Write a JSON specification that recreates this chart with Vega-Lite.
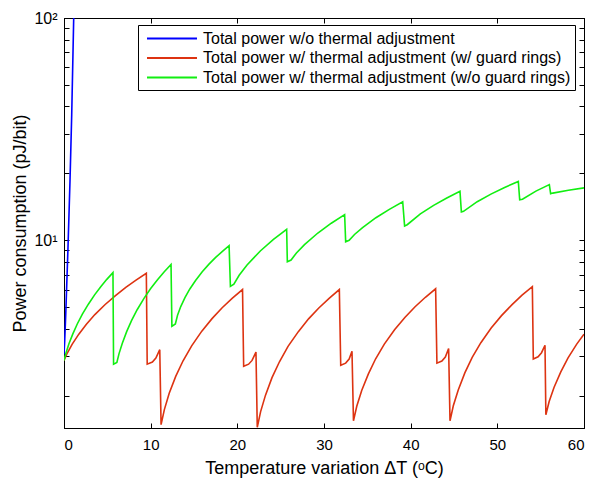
{
  "$schema": "https://vega.github.io/schema/vega-lite/v6.json",
  "width": 520,
  "height": 410,
  "autosize": {"type": "none"},
  "padding": {"left": 64, "top": 18, "right": 9, "bottom": 55},
  "background": "white",
  "config": {
    "font": "Liberation Sans",
    "view": {"stroke": "black", "strokeWidth": 1},
    "axis": {
      "grid": false,
      "domainColor": "black",
      "tickColor": "black",
      "tickSize": -5,
      "labelFont": "Liberation Sans",
      "labelFontSize": 15,
      "labelColor": "black",
      "titleFont": "Liberation Sans",
      "titleFontSize": 18,
      "titleFontWeight": "normal",
      "titleColor": "black"
    }
  },
  "datasets": {
    "curves": [
      {"series": "Total power w/o thermal adjustment", "x": 0, "y": 3.07},
      {"series": "Total power w/o thermal adjustment", "x": 0.08, "y": 3.52},
      {"series": "Total power w/o thermal adjustment", "x": 0.2, "y": 4.64},
      {"series": "Total power w/o thermal adjustment", "x": 0.46, "y": 9.25},
      {"series": "Total power w/o thermal adjustment", "x": 0.69, "y": 18.4},
      {"series": "Total power w/o thermal adjustment", "x": 0.89, "y": 36.7},
      {"series": "Total power w/o thermal adjustment", "x": 1.12, "y": 100},
      {"series": "Total power w/o thermal adjustment", "x": 1.2, "y": 125},

      {"series": "Total power w/ thermal adjustment (w/ guard rings)", "x": 0, "y": 2.88},
      {"series": "Total power w/ thermal adjustment (w/ guard rings)", "x": 0.38, "y": 3.11},
      {"series": "Total power w/ thermal adjustment (w/ guard rings)", "x": 0.95, "y": 3.41},
      {"series": "Total power w/ thermal adjustment (w/ guard rings)", "x": 1.71, "y": 3.78},
      {"series": "Total power w/ thermal adjustment (w/ guard rings)", "x": 2.56, "y": 4.18},
      {"series": "Total power w/ thermal adjustment (w/ guard rings)", "x": 3.56, "y": 4.63},
      {"series": "Total power w/ thermal adjustment (w/ guard rings)", "x": 4.75, "y": 5.14},
      {"series": "Total power w/ thermal adjustment (w/ guard rings)", "x": 5.94, "y": 5.64},
      {"series": "Total power w/ thermal adjustment (w/ guard rings)", "x": 7.13, "y": 6.14},
      {"series": "Total power w/ thermal adjustment (w/ guard rings)", "x": 8.31, "y": 6.62},
      {"series": "Total power w/ thermal adjustment (w/ guard rings)", "x": 9.5, "y": 7.1},
      {"series": "Total power w/ thermal adjustment (w/ guard rings)", "x": 9.6, "y": 2.77},
      {"series": "Total power w/ thermal adjustment (w/ guard rings)", "x": 10.2, "y": 2.83},
      {"series": "Total power w/ thermal adjustment (w/ guard rings)", "x": 10.6, "y": 2.95},
      {"series": "Total power w/ thermal adjustment (w/ guard rings)", "x": 11.05, "y": 3.22},
      {"series": "Total power w/ thermal adjustment (w/ guard rings)", "x": 11.2, "y": 1.48},
      {"series": "Total power w/ thermal adjustment (w/ guard rings)", "x": 11.58, "y": 1.73},
      {"series": "Total power w/ thermal adjustment (w/ guard rings)", "x": 12.14, "y": 2.05},
      {"series": "Total power w/ thermal adjustment (w/ guard rings)", "x": 12.89, "y": 2.44},
      {"series": "Total power w/ thermal adjustment (w/ guard rings)", "x": 13.74, "y": 2.87},
      {"series": "Total power w/ thermal adjustment (w/ guard rings)", "x": 14.73, "y": 3.35},
      {"series": "Total power w/ thermal adjustment (w/ guard rings)", "x": 15.9, "y": 3.9},
      {"series": "Total power w/ thermal adjustment (w/ guard rings)", "x": 17.08, "y": 4.44},
      {"series": "Total power w/ thermal adjustment (w/ guard rings)", "x": 18.25, "y": 4.97},
      {"series": "Total power w/ thermal adjustment (w/ guard rings)", "x": 19.43, "y": 5.49},
      {"series": "Total power w/ thermal adjustment (w/ guard rings)", "x": 20.6, "y": 6.0},
      {"series": "Total power w/ thermal adjustment (w/ guard rings)", "x": 20.73, "y": 2.71},
      {"series": "Total power w/ thermal adjustment (w/ guard rings)", "x": 21.3, "y": 2.77},
      {"series": "Total power w/ thermal adjustment (w/ guard rings)", "x": 21.7, "y": 2.88},
      {"series": "Total power w/ thermal adjustment (w/ guard rings)", "x": 22.15, "y": 3.14},
      {"series": "Total power w/ thermal adjustment (w/ guard rings)", "x": 22.3, "y": 1.44},
      {"series": "Total power w/ thermal adjustment (w/ guard rings)", "x": 22.68, "y": 1.69},
      {"series": "Total power w/ thermal adjustment (w/ guard rings)", "x": 23.25, "y": 2.01},
      {"series": "Total power w/ thermal adjustment (w/ guard rings)", "x": 24.0, "y": 2.41},
      {"series": "Total power w/ thermal adjustment (w/ guard rings)", "x": 24.86, "y": 2.84},
      {"series": "Total power w/ thermal adjustment (w/ guard rings)", "x": 25.85, "y": 3.33},
      {"series": "Total power w/ thermal adjustment (w/ guard rings)", "x": 27.04, "y": 3.88},
      {"series": "Total power w/ thermal adjustment (w/ guard rings)", "x": 28.22, "y": 4.43},
      {"series": "Total power w/ thermal adjustment (w/ guard rings)", "x": 29.4, "y": 4.96},
      {"series": "Total power w/ thermal adjustment (w/ guard rings)", "x": 30.59, "y": 5.48},
      {"series": "Total power w/ thermal adjustment (w/ guard rings)", "x": 31.77, "y": 6.0},
      {"series": "Total power w/ thermal adjustment (w/ guard rings)", "x": 31.93, "y": 2.74},
      {"series": "Total power w/ thermal adjustment (w/ guard rings)", "x": 32.5, "y": 2.8},
      {"series": "Total power w/ thermal adjustment (w/ guard rings)", "x": 32.9, "y": 2.92},
      {"series": "Total power w/ thermal adjustment (w/ guard rings)", "x": 33.23, "y": 3.17},
      {"series": "Total power w/ thermal adjustment (w/ guard rings)", "x": 33.4, "y": 1.54},
      {"series": "Total power w/ thermal adjustment (w/ guard rings)", "x": 33.78, "y": 1.79},
      {"series": "Total power w/ thermal adjustment (w/ guard rings)", "x": 34.35, "y": 2.11},
      {"series": "Total power w/ thermal adjustment (w/ guard rings)", "x": 35.11, "y": 2.5},
      {"series": "Total power w/ thermal adjustment (w/ guard rings)", "x": 35.96, "y": 2.93},
      {"series": "Total power w/ thermal adjustment (w/ guard rings)", "x": 36.96, "y": 3.41},
      {"series": "Total power w/ thermal adjustment (w/ guard rings)", "x": 38.14, "y": 3.96},
      {"series": "Total power w/ thermal adjustment (w/ guard rings)", "x": 39.33, "y": 4.49},
      {"series": "Total power w/ thermal adjustment (w/ guard rings)", "x": 40.51, "y": 5.02},
      {"series": "Total power w/ thermal adjustment (w/ guard rings)", "x": 41.7, "y": 5.54},
      {"series": "Total power w/ thermal adjustment (w/ guard rings)", "x": 42.88, "y": 6.05},
      {"series": "Total power w/ thermal adjustment (w/ guard rings)", "x": 43.03, "y": 2.8},
      {"series": "Total power w/ thermal adjustment (w/ guard rings)", "x": 43.6, "y": 2.86},
      {"series": "Total power w/ thermal adjustment (w/ guard rings)", "x": 44.0, "y": 2.98},
      {"series": "Total power w/ thermal adjustment (w/ guard rings)", "x": 44.38, "y": 3.26},
      {"series": "Total power w/ thermal adjustment (w/ guard rings)", "x": 44.54, "y": 1.54},
      {"series": "Total power w/ thermal adjustment (w/ guard rings)", "x": 44.92, "y": 1.8},
      {"series": "Total power w/ thermal adjustment (w/ guard rings)", "x": 45.49, "y": 2.12},
      {"series": "Total power w/ thermal adjustment (w/ guard rings)", "x": 46.25, "y": 2.53},
      {"series": "Total power w/ thermal adjustment (w/ guard rings)", "x": 47.1, "y": 2.97},
      {"series": "Total power w/ thermal adjustment (w/ guard rings)", "x": 48.1, "y": 3.46},
      {"series": "Total power w/ thermal adjustment (w/ guard rings)", "x": 49.29, "y": 4.03},
      {"series": "Total power w/ thermal adjustment (w/ guard rings)", "x": 50.48, "y": 4.58},
      {"series": "Total power w/ thermal adjustment (w/ guard rings)", "x": 51.67, "y": 5.12},
      {"series": "Total power w/ thermal adjustment (w/ guard rings)", "x": 52.85, "y": 5.66},
      {"series": "Total power w/ thermal adjustment (w/ guard rings)", "x": 54.04, "y": 6.18},
      {"series": "Total power w/ thermal adjustment (w/ guard rings)", "x": 54.15, "y": 2.92},
      {"series": "Total power w/ thermal adjustment (w/ guard rings)", "x": 54.7, "y": 2.99},
      {"series": "Total power w/ thermal adjustment (w/ guard rings)", "x": 55.1, "y": 3.12},
      {"series": "Total power w/ thermal adjustment (w/ guard rings)", "x": 55.5, "y": 3.37},
      {"series": "Total power w/ thermal adjustment (w/ guard rings)", "x": 55.6, "y": 1.64},
      {"series": "Total power w/ thermal adjustment (w/ guard rings)", "x": 55.98, "y": 1.88},
      {"series": "Total power w/ thermal adjustment (w/ guard rings)", "x": 56.55, "y": 2.18},
      {"series": "Total power w/ thermal adjustment (w/ guard rings)", "x": 57.31, "y": 2.55},
      {"series": "Total power w/ thermal adjustment (w/ guard rings)", "x": 58.16, "y": 2.96},
      {"series": "Total power w/ thermal adjustment (w/ guard rings)", "x": 59.16, "y": 3.41},
      {"series": "Total power w/ thermal adjustment (w/ guard rings)", "x": 60.0, "y": 3.78},

      {"series": "Total power w/ thermal adjustment (w/o guard rings)", "x": 0, "y": 2.88},
      {"series": "Total power w/ thermal adjustment (w/o guard rings)", "x": 0.23, "y": 3.11},
      {"series": "Total power w/ thermal adjustment (w/o guard rings)", "x": 0.57, "y": 3.42},
      {"series": "Total power w/ thermal adjustment (w/o guard rings)", "x": 1.02, "y": 3.79},
      {"series": "Total power w/ thermal adjustment (w/o guard rings)", "x": 1.53, "y": 4.2},
      {"series": "Total power w/ thermal adjustment (w/o guard rings)", "x": 2.12, "y": 4.65},
      {"series": "Total power w/ thermal adjustment (w/o guard rings)", "x": 2.83, "y": 5.17},
      {"series": "Total power w/ thermal adjustment (w/o guard rings)", "x": 3.53, "y": 5.68},
      {"series": "Total power w/ thermal adjustment (w/o guard rings)", "x": 4.24, "y": 6.18},
      {"series": "Total power w/ thermal adjustment (w/o guard rings)", "x": 4.94, "y": 6.67},
      {"series": "Total power w/ thermal adjustment (w/o guard rings)", "x": 5.65, "y": 7.15},
      {"series": "Total power w/ thermal adjustment (w/o guard rings)", "x": 5.72, "y": 2.77},
      {"series": "Total power w/ thermal adjustment (w/o guard rings)", "x": 6.1, "y": 2.82},
      {"series": "Total power w/ thermal adjustment (w/o guard rings)", "x": 6.35, "y": 3.09},
      {"series": "Total power w/ thermal adjustment (w/o guard rings)", "x": 6.73, "y": 3.44},
      {"series": "Total power w/ thermal adjustment (w/o guard rings)", "x": 7.23, "y": 3.88},
      {"series": "Total power w/ thermal adjustment (w/o guard rings)", "x": 7.79, "y": 4.35},
      {"series": "Total power w/ thermal adjustment (w/o guard rings)", "x": 8.44, "y": 4.87},
      {"series": "Total power w/ thermal adjustment (w/o guard rings)", "x": 9.23, "y": 5.48},
      {"series": "Total power w/ thermal adjustment (w/o guard rings)", "x": 10.0, "y": 6.07},
      {"series": "Total power w/ thermal adjustment (w/o guard rings)", "x": 10.79, "y": 6.65},
      {"series": "Total power w/ thermal adjustment (w/o guard rings)", "x": 11.57, "y": 7.22},
      {"series": "Total power w/ thermal adjustment (w/o guard rings)", "x": 12.35, "y": 7.78},
      {"series": "Total power w/ thermal adjustment (w/o guard rings)", "x": 12.45, "y": 4.1},
      {"series": "Total power w/ thermal adjustment (w/o guard rings)", "x": 12.85, "y": 4.2},
      {"series": "Total power w/ thermal adjustment (w/o guard rings)", "x": 13.1, "y": 4.6},
      {"series": "Total power w/ thermal adjustment (w/o guard rings)", "x": 13.47, "y": 5.03},
      {"series": "Total power w/ thermal adjustment (w/o guard rings)", "x": 13.97, "y": 5.53},
      {"series": "Total power w/ thermal adjustment (w/o guard rings)", "x": 14.52, "y": 6.04},
      {"series": "Total power w/ thermal adjustment (w/o guard rings)", "x": 15.18, "y": 6.59},
      {"series": "Total power w/ thermal adjustment (w/o guard rings)", "x": 15.95, "y": 7.21},
      {"series": "Total power w/ thermal adjustment (w/o guard rings)", "x": 16.73, "y": 7.81},
      {"series": "Total power w/ thermal adjustment (w/o guard rings)", "x": 17.5, "y": 8.37},
      {"series": "Total power w/ thermal adjustment (w/o guard rings)", "x": 18.28, "y": 8.92},
      {"series": "Total power w/ thermal adjustment (w/o guard rings)", "x": 19.05, "y": 9.45},
      {"series": "Total power w/ thermal adjustment (w/o guard rings)", "x": 19.2, "y": 6.2},
      {"series": "Total power w/ thermal adjustment (w/o guard rings)", "x": 19.6, "y": 6.35},
      {"series": "Total power w/ thermal adjustment (w/o guard rings)", "x": 20.21, "y": 6.96},
      {"series": "Total power w/ thermal adjustment (w/o guard rings)", "x": 21.12, "y": 7.74},
      {"series": "Total power w/ thermal adjustment (w/o guard rings)", "x": 22.65, "y": 8.95},
      {"series": "Total power w/ thermal adjustment (w/o guard rings)", "x": 24.17, "y": 10.09},
      {"series": "Total power w/ thermal adjustment (w/o guard rings)", "x": 25.69, "y": 11.2},
      {"series": "Total power w/ thermal adjustment (w/o guard rings)", "x": 25.77, "y": 8.0},
      {"series": "Total power w/ thermal adjustment (w/o guard rings)", "x": 26.2, "y": 8.15},
      {"series": "Total power w/ thermal adjustment (w/o guard rings)", "x": 26.82, "y": 8.77},
      {"series": "Total power w/ thermal adjustment (w/o guard rings)", "x": 27.75, "y": 9.56},
      {"series": "Total power w/ thermal adjustment (w/o guard rings)", "x": 29.29, "y": 10.78},
      {"series": "Total power w/ thermal adjustment (w/o guard rings)", "x": 30.84, "y": 11.93},
      {"series": "Total power w/ thermal adjustment (w/o guard rings)", "x": 32.38, "y": 13.05},
      {"series": "Total power w/ thermal adjustment (w/o guard rings)", "x": 32.5, "y": 9.84},
      {"series": "Total power w/ thermal adjustment (w/o guard rings)", "x": 32.9, "y": 10.0},
      {"series": "Total power w/ thermal adjustment (w/o guard rings)", "x": 33.52, "y": 10.62},
      {"series": "Total power w/ thermal adjustment (w/o guard rings)", "x": 34.45, "y": 11.41},
      {"series": "Total power w/ thermal adjustment (w/o guard rings)", "x": 35.99, "y": 12.63},
      {"series": "Total power w/ thermal adjustment (w/o guard rings)", "x": 37.54, "y": 13.78},
      {"series": "Total power w/ thermal adjustment (w/o guard rings)", "x": 39.08, "y": 14.9},
      {"series": "Total power w/ thermal adjustment (w/o guard rings)", "x": 39.3, "y": 11.6},
      {"series": "Total power w/ thermal adjustment (w/o guard rings)", "x": 39.6, "y": 11.75},
      {"series": "Total power w/ thermal adjustment (w/o guard rings)", "x": 41.12, "y": 13.14},
      {"series": "Total power w/ thermal adjustment (w/o guard rings)", "x": 42.65, "y": 14.35},
      {"series": "Total power w/ thermal adjustment (w/o guard rings)", "x": 44.17, "y": 15.49},
      {"series": "Total power w/ thermal adjustment (w/o guard rings)", "x": 45.69, "y": 16.6},
      {"series": "Total power w/ thermal adjustment (w/o guard rings)", "x": 45.85, "y": 13.4},
      {"series": "Total power w/ thermal adjustment (w/o guard rings)", "x": 46.1, "y": 13.5},
      {"series": "Total power w/ thermal adjustment (w/o guard rings)", "x": 47.68, "y": 14.91},
      {"series": "Total power w/ thermal adjustment (w/o guard rings)", "x": 49.26, "y": 16.13},
      {"series": "Total power w/ thermal adjustment (w/o guard rings)", "x": 50.84, "y": 17.28},
      {"series": "Total power w/ thermal adjustment (w/o guard rings)", "x": 52.42, "y": 18.4},
      {"series": "Total power w/ thermal adjustment (w/o guard rings)", "x": 52.58, "y": 15.2},
      {"series": "Total power w/ thermal adjustment (w/o guard rings)", "x": 52.9, "y": 15.3},
      {"series": "Total power w/ thermal adjustment (w/o guard rings)", "x": 54.45, "y": 16.64},
      {"series": "Total power w/ thermal adjustment (w/o guard rings)", "x": 56.0, "y": 17.8},
      {"series": "Total power w/ thermal adjustment (w/o guard rings)", "x": 56.15, "y": 16.2},
      {"series": "Total power w/ thermal adjustment (w/o guard rings)", "x": 56.4, "y": 16.3},
      {"series": "Total power w/ thermal adjustment (w/o guard rings)", "x": 58.2, "y": 16.78},
      {"series": "Total power w/ thermal adjustment (w/o guard rings)", "x": 60.0, "y": 17.2}
    ]
  },
  "data": {"name": "curves"},
  "layer": [
    {
      "mark": {"type": "line", "strokeWidth": 1.6, "clip": true},
      "encoding": {
        "x": {
          "field": "x", "type": "quantitative",
          "scale": {"domain": [0, 60], "nice": false, "zero": false},
          "axis": {
            "orient": "bottom",
            "values": [0, 10, 20, 30, 40, 50, 60],
            "title": "Temperature variation ΔT (ᵒC)",
            "labelPadding": 14,
            "titlePadding": 7
          }
        },
        "y": {
          "field": "y", "type": "quantitative",
          "scale": {"type": "log", "domain": [1.43, 100], "nice": false},
          "axis": {
            "orient": "left",
            "values": [2, 3, 4, 5, 6, 7, 8, 9, 10, 20, 30, 40, 50, 60, 70, 80, 90, 100],
            "labelExpr": "datum.value == 10 ? '10¹' : (datum.value == 100 ? '10²' : '')",
            "labelFontSize": 16,
            "title": "Power consumption (pJ/bit)",
            "labelPadding": 12,
            "titlePadding": 4
          }
        },
        "color": {
          "field": "series", "type": "nominal",
          "scale": {
            "domain": [
              "Total power w/o thermal adjustment",
              "Total power w/ thermal adjustment (w/ guard rings)",
              "Total power w/ thermal adjustment (w/o guard rings)"
            ],
            "range": ["#0000FF", "#DD3311", "#11EE11"]
          },
          "legend": {
            "orient": "none",
            "legendX": 74,
            "legendY": 7,
            "title": null,
            "symbolType": "M-2.94,0H2.94",
            "symbolSize": 289,
            "symbolStrokeWidth": 2,
            "symbolOffset": 20.5,
            "labelFont": "Liberation Sans",
            "labelFontSize": 16,
            "labelColor": "black",
            "labelLimit": 600,
            "labelOffset": 21.5,
            "strokeColor": "black",
            "fillColor": "white",
            "padding": 4,
            "rowPadding": 1.5
          }
        }
      }
    },
    {
      "mark": {"type": "line", "opacity": 0},
      "encoding": {
        "x": {
          "field": "x", "type": "quantitative",
          "scale": {"domain": [0, 60], "nice": false, "zero": false},
          "axis": {"orient": "top", "values": [0, 10, 20, 30, 40, 50, 60], "labels": false, "title": null}
        },
        "y": {
          "field": "y", "type": "quantitative",
          "scale": {"type": "log", "domain": [1.43, 100], "nice": false},
          "axis": {
            "orient": "right",
            "values": [2, 3, 4, 5, 6, 7, 8, 9, 10, 20, 30, 40, 50, 60, 70, 80, 90, 100],
            "labels": false, "title": null
          }
        }
      }
    }
  ]
}
